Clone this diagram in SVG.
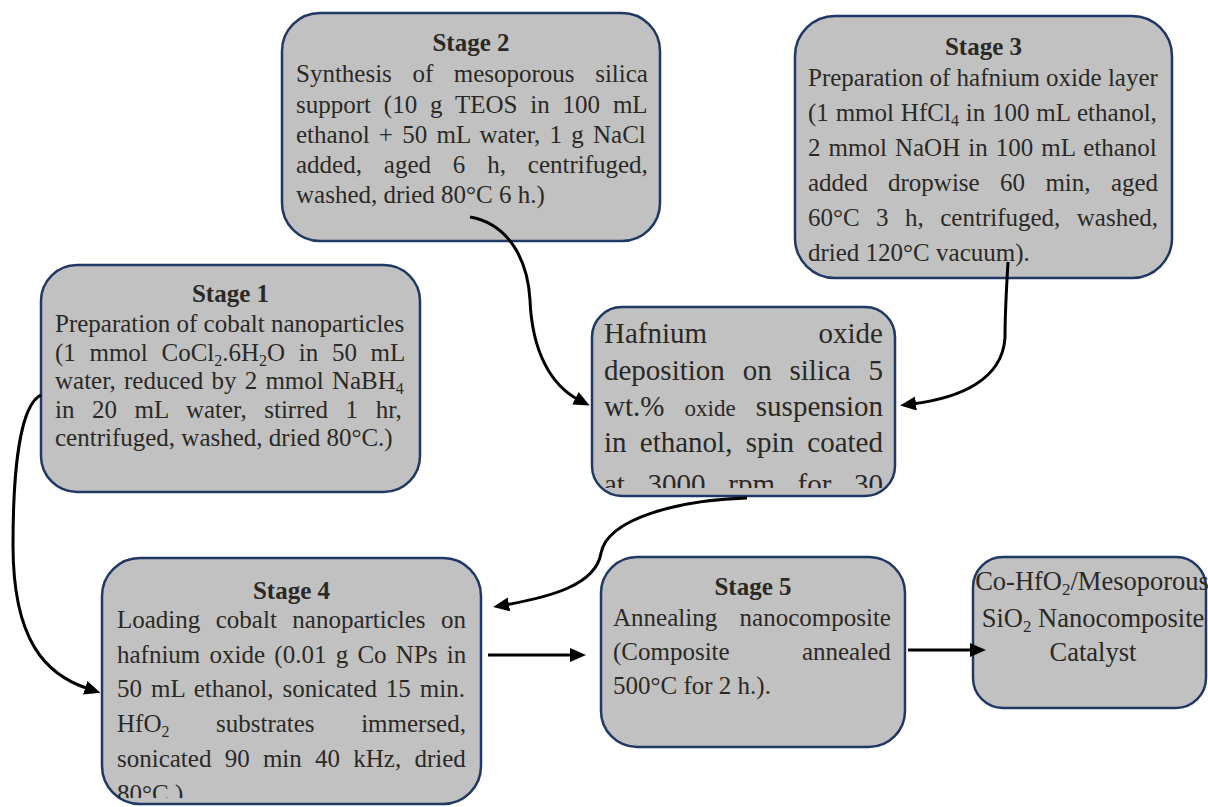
<svg xmlns="http://www.w3.org/2000/svg" width="1208" height="807" viewBox="0 0 1208 807">
<style>
.box{fill:#c2c1c1;stroke:#1f3864;stroke-width:2.5}
.t{font-family:'Liberation Serif','Times New Roman',serif;font-size:25px;fill:#2a2925}
.b{font-weight:bold;text-anchor:middle}
.m{text-anchor:middle;font-size:26.5px}
.h{font-size:29px}
.s{font-size:16px}
.m .s{font-size:17px}
.c{fill:none;stroke:#000;stroke-width:3;marker-end:url(#ah)}
</style>
<defs>
<marker id="ah" markerUnits="userSpaceOnUse" markerWidth="18" markerHeight="16" refX="4" refY="7" orient="auto"><path d="M0,0 L16,7 L0,14 Z" fill="#000"/></marker>
<clipPath id="cpH"><rect x="592" y="307" width="303" height="181"/></clipPath>
<clipPath id="cp4"><rect x="102" y="558" width="379" height="240"/></clipPath>
</defs>
<rect width="1208" height="807" fill="#fff"/>

<g id="stage2">
<rect class="box" x="282" y="13" width="378" height="228" rx="38"/>
<text class="t b" x="471" y="51">Stage 2</text>
<text class="t" x="296" y="82" style="word-spacing:14.3px">Synthesis of mesoporous silica</text>
<text class="t" x="296" y="113" style="word-spacing:6.6px">support (10 g TEOS in 100 mL</text>
<text class="t" x="296" y="143" style="word-spacing:3px">ethanol + 50 mL water, 1 g NaCl</text>
<text class="t" x="296" y="173" style="word-spacing:15.6px">added, aged 6 h, centrifuged,</text>
<text class="t" x="296" y="203">washed, dried 80°C 6 h.)</text>
</g>

<g id="stage3">
<rect class="box" x="795" y="16" width="377" height="262" rx="40"/>
<text class="t b" x="983.5" y="55">Stage 3</text>
<text class="t" x="808" y="86">Preparation of hafnium oxide layer</text>
<text class="t" x="808" y="121" style="word-spacing:0.6px">(1 mmol HfCl<tspan class="s" dy="5">4</tspan><tspan dy="-5"> in 100 mL ethanol,</tspan></text>
<text class="t" x="808" y="156" style="word-spacing:1.8px">2 mmol NaOH in 100 mL ethanol</text>
<text class="t" x="808" y="191" style="word-spacing:14.1px">added dropwise 60 min, aged</text>
<text class="t" x="808" y="226" style="word-spacing:10.2px">60°C 3 h, centrifuged, washed,</text>
<text class="t" x="808" y="261">dried 120°C vacuum).</text>
</g>

<g id="stage1">
<rect class="box" x="41" y="265" width="379" height="227" rx="36"/>
<text class="t b" x="230.5" y="302">Stage 1</text>
<text class="t" x="55" y="332">Preparation of cobalt nanoparticles</text>
<text class="t" x="55" y="361" style="word-spacing:7.4px">(1 mmol CoCl<tspan class="s" dy="5">2</tspan><tspan dy="-5">.6H</tspan><tspan class="s" dy="5">2</tspan><tspan dy="-5">O in 50 mL</tspan></text>
<text class="t" x="55" y="389" style="word-spacing:2px">water, reduced by 2 mmol NaBH<tspan class="s" dy="5">4</tspan></text>
<text class="t" x="55" y="418" style="word-spacing:11.3px">in 20 mL water, stirred 1 hr,</text>
<text class="t" x="55" y="446">centrifuged, washed, dried 80°C.)</text>
</g>

<g id="deposition">
<rect class="box" x="592" y="307" width="303" height="189" rx="30"/>
<g clip-path="url(#cpH)">
<text class="t h" x="604" y="343">Hafnium</text>
<text class="t h" x="883" y="343" text-anchor="end">oxide</text>
<text class="t h" x="604" y="380" style="word-spacing:10.6px">deposition on silica 5</text>
<text class="t h" x="604" y="416" style="word-spacing:12.9px">wt.% <tspan style="font-size:23px">oxide</tspan> suspension</text>
<text class="t h" x="604" y="452" style="word-spacing:6px">in ethanol, spin coated</text>
<text class="t h" x="604" y="494" style="word-spacing:15.4px">at 3000 rpm for 30</text>
</g>
</g>

<g id="stage4">
<rect class="box" x="102" y="558" width="379" height="246" rx="38"/>
<text class="t b" x="291.5" y="599">Stage 4</text>
<g clip-path="url(#cp4)">
<text class="t" x="117" y="628" style="word-spacing:9.2px">Loading cobalt nanoparticles on</text>
<text class="t" x="117" y="663" style="word-spacing:3px">hafnium oxide (0.01 g Co NPs in</text>
<text class="t" x="117" y="697" style="word-spacing:2.7px">50 mL ethanol, sonicated 15 min.</text>
<text class="t" x="117" y="732" style="word-spacing:40.3px">HfO<tspan class="s" dy="5">2</tspan><tspan dy="-5"> substrates immersed,</tspan></text>
<text class="t" x="117" y="767" style="word-spacing:7px">sonicated 90 min 40 kHz, dried</text>
<text class="t" x="117" y="802">80°C.)</text>
</g>
</g>

<g id="stage5">
<rect class="box" x="601" y="557" width="304" height="190" rx="36"/>
<text class="t b" x="753" y="595">Stage 5</text>
<text class="t" x="613" y="626" style="word-spacing:16.2px">Annealing nanocomposite</text>
<text class="t" x="613" y="660" style="word-spacing:66px">(Composite annealed</text>
<text class="t" x="613" y="694">500°C for 2 h.).</text>
</g>

<g id="product">
<rect class="box" x="973" y="557" width="233" height="151" rx="30"/>
<text class="t m" x="1092" y="590">Co-HfO<tspan class="s" dy="5">2</tspan><tspan dy="-5">/Mesoporous</tspan></text>
<text class="t m" x="1093" y="627">SiO<tspan class="s" dy="5">2</tspan><tspan dy="-5"> Nanocomposite</tspan></text>
<text class="t m" x="1093" y="661">Catalyst</text>
</g>

<g id="connectors">
<path class="c" d="M470,217 C510,224 528,262 530,300 C532,350 550,385 579,400"/>
<path class="c" d="M1008,262 C1006,295 1005,318 1005,338 C1002,380 960,398 912,404"/>
<path class="c" d="M747,498 C680,500 608,518 601,553 C596,585 550,597 505,605"/>
<path class="c" d="M41,395 C20,405 13,470 13,545 C13,640 45,675 89,689"/>
<path class="c" d="M488,655 L574,655"/>
<path class="c" d="M908,650 L974,650"/>
</g>
</svg>
